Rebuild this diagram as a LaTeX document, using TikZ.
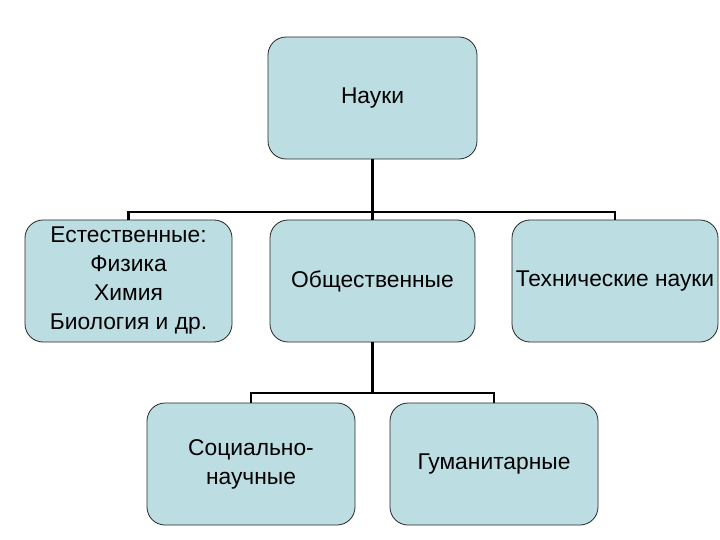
\documentclass[tikz,border=0pt]{standalone}
\usepackage{fontspec}
\setmainfont{Liberation Sans}
\definecolor{boxfill}{RGB}{188,222,226}
\begin{document}
\begin{tikzpicture}[x=1pt,y=-1pt,
  box/.style={draw=black!85, line width=0.8pt, fill=boxfill, rounded corners=18pt,
    minimum width=207pt, minimum height=122pt, inner sep=0pt, align=center,
    font=\fontsize{22.8}{29}\selectfont},
  conn/.style={draw=black, line width=2.6pt}]
\useasboundingbox (0,0) rectangle (720,540);
\node[box, minimum width=209pt] (top) at (372.5,98) {Науки};
\node[box] (nat) at (128.5,281) {Естественные:\\Физика\\Химия\\Биология и др.};
\node[box, minimum width=205pt] (soc) at (372.5,281) {Общественные};
\node[box, minimum width=206pt] (tech) at (615,281) {Технические науки};
\node[box, minimum width=208pt] (socn) at (251,464) {Социально-\\научные};
\node[box, minimum width=208pt] (hum) at (494,464) {Гуманитарные};
\coordinate (bus1) at (372.5,212);
\coordinate (bus2) at (372.5,393);
\draw[conn] (top.south) -- (bus1);
\draw[conn] (bus1) -| (nat.north);
\draw[conn] (bus1) -- (soc.north);
\draw[conn] (bus1) -| (tech.north);
\draw[conn] (soc.south) -- (bus2);
\draw[conn] (bus2) -| (socn.north);
\draw[conn] (bus2) -| (hum.north);
\end{tikzpicture}
\end{document}
